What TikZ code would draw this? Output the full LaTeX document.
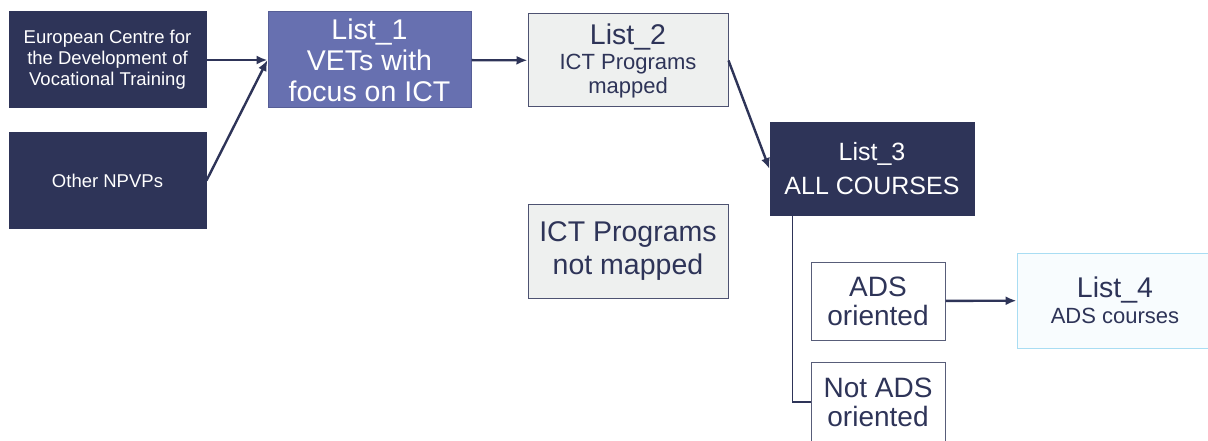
\documentclass[tikz,border=0pt]{standalone}
\usepackage{fontspec}
\setmainfont{Liberation Sans}
\usepackage{tikz}
\usetikzlibrary{arrows.meta}
\definecolor{navy}{HTML}{2E3458}
\definecolor{violetblue}{HTML}{6770B0}
\definecolor{paleblue}{HTML}{A9DDF3}
\definecolor{lightgrey}{HTML}{EEF0EF}
\tikzset{darkbox/.style = {shape=rectangle,draw=navy,fill=navy,text=white,line width=1pt,align=center,inner sep=0pt}}
\tikzset{greybox/.style = {shape=rectangle,draw=navy!85,fill=lightgrey,text=navy,line width=1pt,align=center,inner sep=0pt}}
\tikzset{whitebox/.style = {shape=rectangle,draw=navy!80,fill=white,text=navy,line width=1pt,align=center,inner sep=0pt}}
\tikzset{edge/.style = {-{Latex[length=11pt,width=9pt]},draw=navy,line width=2.4pt}}
\tikzset{line/.style = {draw=navy,line width=1.6pt}}
\newcommand{\bigtxt}{\fontsize{28.5}{31}\selectfont}
\newcommand{\midtxt}{\fontsize{22}{24}\selectfont}
\newcommand{\smalltxt}{\fontsize{18.5}{21}\selectfont}

\begin{document}
\begin{tikzpicture}[x=1pt,y=-1pt]
		\clip (0,0) rectangle (1208,441);
		\fill[white] (0,0) rectangle (1208,441);
		% boxes
		\node[darkbox,font=\smalltxt,minimum width=197pt,minimum height=96pt] (ecvt) at (107.5,60) {European Centre for\\ the Development of\\ Vocational Training};
		\node[darkbox,font=\smalltxt,minimum width=197pt,minimum height=95pt] (npvp) at (107.5,180.5) {Other NPVPs};
		\node[darkbox,font=\bigtxt,fill=violetblue,draw=violetblue!70!navy,minimum width=203pt,minimum height=96pt] (list1) at (369.5,60) {List\_1\\ VETs with\\ focus on ICT};
		\node[greybox,font=\midtxt,minimum width=200pt,minimum height=93pt] (list2) at (628,60.5) {{\bigtxt List\_2}\\[1pt] ICT Programs\\ mapped};
		\node[darkbox,font=\fontsize{25}{34}\selectfont,minimum width=204pt,minimum height=92pt] (list3) at (872,169) {List\_3\\ ALL COURSES};
		\node[greybox,font=\fontsize{28.5}{33}\selectfont,minimum width=200pt,minimum height=94pt] (nomap) at (628,251) {ICT Programs\\ not mapped};
		\node[whitebox,font=\fontsize{28}{29}\selectfont,minimum width=134pt,minimum height=78pt] (ads) at (878,301) {ADS\\ oriented};
		\node[whitebox,font=\fontsize{28}{29}\selectfont,minimum width=134pt,minimum height=80pt] (notads) at (878,402) {Not ADS\\ oriented};
		\node[whitebox,font=\midtxt,draw=paleblue,fill=paleblue!8,minimum width=196pt,minimum height=95pt] (list4) at (1115,300.5) {{\bigtxt List\_4}\\[2pt] ADS courses};

		%edges
		\draw[edge] (ecvt) -- (list1.west);
		\draw[edge] (npvp.east) -- (list1.west);
		\draw[edge] (list1) -- (list2);
		\draw[edge] (list2.east) -- (list3.west);
		\draw[line] (list3.south west) ++(23,0) |- (notads.west);
		\draw[edge] (ads) -- (list4);
	\end{tikzpicture}
\end{document}
